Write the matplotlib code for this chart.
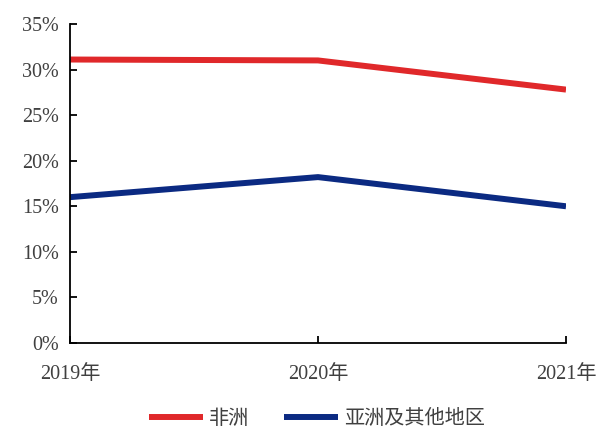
import matplotlib
matplotlib.use("Agg")
import matplotlib.pyplot as plt
from matplotlib.ticker import FuncFormatter

plt.rcParams['font.family'] = ['Liberation Serif', 'Noto Sans CJK SC']

years = ['2019年', '2020年', '2021年']
africa = [31.1, 31.0, 27.8]
asia_other = [16.0, 18.2, 15.0]
series_names = ['非洲', '亚洲及其他地区']
y_ticks = [0, 5, 10, 15, 20, 25, 30, 35]

fig = plt.figure(figsize=(5.98, 4.28), dpi=100)
ax = fig.add_axes([0.117, 0.1986, 0.8295, 0.7454])

x = range(len(years))
ax.plot(x, africa, color='#E0282A', lw=4.3, solid_capstyle='butt', label=series_names[0])
ax.plot(x, asia_other, color='#0B2A82', lw=4.3, solid_capstyle='butt', label=series_names[1])

ax.set_xlim(0, len(years) - 1)
ax.set_ylim(0, 35)
ax.set_yticks(y_ticks)
ax.yaxis.set_major_formatter(FuncFormatter(lambda v, p: f'{int(v)}%'))
ax.set_xticks(list(x))
ax.set_xticklabels(years)

for s in ['top', 'right']:
    ax.spines[s].set_visible(False)
for s in ['left', 'bottom']:
    ax.spines[s].set_linewidth(1.3)
    ax.spines[s].set_color('black')

ax.tick_params(axis='y', direction='in', length=5, width=1.3, labelsize=14.5,
               labelcolor='#404040', pad=8)
ax.tick_params(axis='x', direction='in', length=5, width=1.3, labelsize=14.5,
               labelcolor='#404040', pad=16)

leg = fig.legend(loc='center', bbox_to_anchor=(0.53, 0.022), ncol=2, frameon=False,
                 fontsize=14.5, handlelength=2.7, handletextpad=0.3, columnspacing=1.7)
for t in leg.get_texts():
    t.set_color('#404040')
    t.set_fontfamily(['Noto Sans CJK SC'])

fig.savefig('out.png', dpi=100)
